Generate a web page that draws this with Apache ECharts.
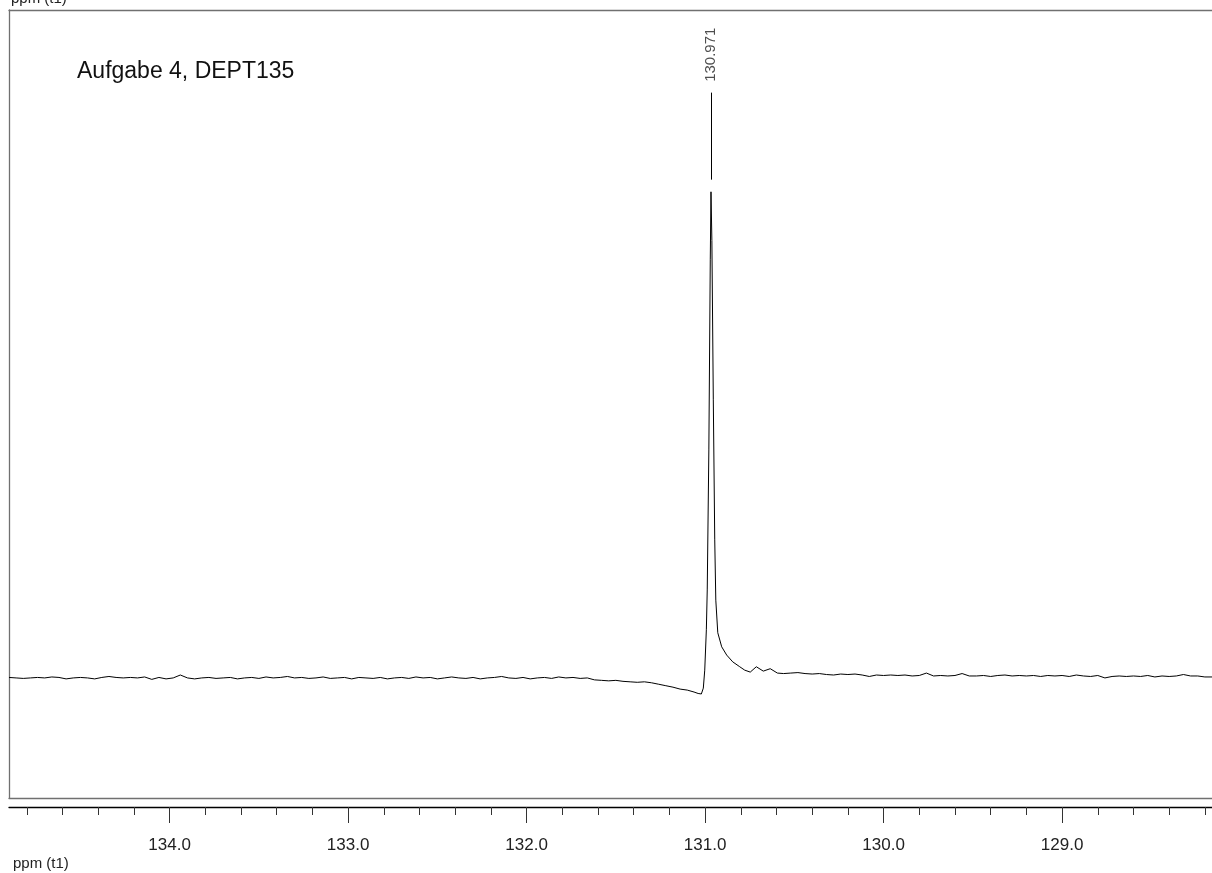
<!DOCTYPE html>
<html>
<head>
<meta charset="utf-8">
<script src="https://cdn.jsdelivr.net/npm/echarts@6/dist/echarts.min.js"></script>
<style>
html,body{margin:0;padding:0;background:#fff;overflow:hidden;}
#chart{width:1212px;height:873px;}
</style>
</head>
<body>
<div id="chart"></div>
<script>
// ---- data (ppm axis, intensity relative to peak = 100) ----
const title = 'Aufgabe 4, DEPT135';
const axisName = 'ppm (t1)';
const peakPos = 130.967;       // where the peak maximum sits on the axis
const peakLabel = '130.971';   // printed peak label

// left baseline: 134.90 -> 131.10 ppm, step 0.04
const leftStart = 134.90, leftStep = 0.04;
const leftValues = [
  0.1, 0.0, -0.1, 0.0, 0.1, 0.0, 0.2, 0.1, -0.2, 0.0,
  0.1, 0.0, -0.2, 0.1, 0.3, 0.1, 0.0, 0.1, 0.0, 0.2,
  -0.3, 0.1, -0.2, 0.0, 0.6, 0.0, -0.2, 0.0, 0.1, -0.1,
  0.0, 0.1, -0.2, 0.0, 0.1, -0.1, 0.2, 0.0, 0.1, 0.3,
  0.0, 0.1, -0.1, 0.0, 0.2, -0.1, 0.0, 0.1, -0.2, 0.1,
  0.0, -0.1, 0.1, -0.2, 0.0, 0.1, -0.1, 0.2, 0.0, 0.1,
  -0.2, 0.0, 0.2, 0.0, -0.1, 0.1, -0.2, 0.0, 0.1, 0.3,
  0.0, -0.1, 0.1, -0.2, 0.0, 0.1, -0.1, 0.2, 0.0, 0.1,
  -0.1, 0.0, -0.4, -0.5, -0.6, -0.5, -0.7, -0.8, -0.9, -0.8,
  -1.0, -1.3, -1.6, -1.9, -2.3, -2.5
];

// peak region: explicit ppm / intensity pairs
const peakPpms = [
  131.062, 131.039, 131.021, 131.010, 131.002, 130.993, 130.988, 130.979,
  130.971, 130.967, 130.962, 130.954, 130.946, 130.940, 130.929, 130.907,
  130.879, 130.845, 130.806, 130.778, 130.747, 130.713, 130.674, 130.635, 130.595
];
const peakValues = [
  -2.9, -3.2, -3.3, -2.1, 1.6, 9.9, 18.1, 46.9,
  86.0, 100.0, 90.0, 57.2, 28.4, 16.0, 9.3, 6.4,
  4.7, 3.3, 2.3, 1.6, 1.2, 2.3, 1.4, 1.9, 1.0
];

// right baseline: 130.56 -> 128.12 ppm, step 0.04
const rightStart = 130.56, rightStep = 0.04;
const rightValues = [
  0.9, 1.0, 1.1, 0.9, 0.8, 0.9, 0.7, 0.6, 0.8, 0.7,
  0.8, 0.6, 0.3, 0.6, 0.5, 0.6, 0.5, 0.6, 0.4, 0.5,
  1.0, 0.4, 0.5, 0.4, 0.5, 0.9, 0.4, 0.4, 0.5, 0.3,
  0.5, 0.6, 0.4, 0.5, 0.4, 0.5, 0.3, 0.5, 0.4, 0.5,
  0.3, 0.6, 0.4, 0.3, 0.5, 0.0, 0.3, 0.4, 0.3, 0.4,
  0.3, 0.5, 0.2, 0.4, 0.3, 0.4, 0.7, 0.4, 0.4, 0.2,
  0.2, 0.1
];

const majorTicks = [129.0, 130.0, 131.0, 132.0, 133.0, 134.0];
const minorTicks = [128.2, 128.4, 128.6, 128.8, 129.2, 129.4, 129.6, 129.8,
  130.2, 130.4, 130.6, 130.8, 131.2, 131.4, 131.6, 131.8,
  132.2, 132.4, 132.6, 132.8, 133.2, 133.4, 133.6, 133.8,
  134.2, 134.4, 134.6, 134.8];

// ---- build series data ----
const spectrum = [];
leftValues.forEach((v, i) => spectrum.push([+(leftStart - i * leftStep).toFixed(3), v]));
peakPpms.forEach((p, i) => spectrum.push([p, peakValues[i]]));
rightValues.forEach((v, i) => spectrum.push([+(rightStart - i * rightStep).toFixed(3), v]));

const xMin = 128.16, xMax = 134.90;
const yMin = -24.7, yMax = 137.4;

const chart = echarts.init(document.getElementById('chart'), null, {renderer: 'canvas'});
const font = 'Arial, "Liberation Sans", Helvetica, sans-serif';
const frameLine = {show: true, onZero: false, lineStyle: {color: '#707070', width: 1.3}};
const frameAxis = (pos, off) => ({
  type: 'value', min: xMin, max: xMax, inverse: true, position: pos, offset: off,
  axisLine: frameLine, axisTick: {show: false}, axisLabel: {show: false}, splitLine: {show: false}
});

chart.setOption({
  animation: false,
  backgroundColor: '#fff',
  grid: {left: 9, right: 0, top: 10, bottom: 75, show: false},
  xAxis: [
    {
      type: 'value', min: xMin, max: xMax, inverse: true, offset: 9, position: 'bottom',
      axisLine: {show: true, onZero: false, lineStyle: {color: '#000', width: 1.3}},
      axisTick: {show: true, length: 16, customValues: majorTicks, lineStyle: {color: '#333', width: 1}},
      axisLabel: {show: true, customValues: majorTicks, margin: 30, fontSize: 17, color: '#222', fontFamily: font,
        formatter: v => Number(v).toFixed(1)},
      splitLine: {show: false}
    },
    {
      type: 'value', min: xMin, max: xMax, inverse: true, offset: 9, position: 'bottom',
      axisLine: {show: false, onZero: false},
      axisTick: {show: true, length: 8, customValues: minorTicks, lineStyle: {color: '#333', width: 1}},
      axisLabel: {show: false},
      splitLine: {show: false}
    },
    frameAxis('bottom', 0),
    frameAxis('top', 0)
  ],
  yAxis: {
    type: 'value', min: yMin, max: yMax, position: 'left',
    axisLine: frameLine, axisTick: {show: false}, axisLabel: {show: false}, splitLine: {show: false}
  },
  series: [
    {
      type: 'line', data: spectrum, showSymbol: false, symbol: 'none',
      lineStyle: {color: '#000', width: 1}, smooth: false,
      markLine: {
        silent: true, symbol: 'none', label: {show: false},
        lineStyle: {color: '#000', width: 1, type: 'solid'},
        data: [[{coord: [peakPos, 102.5]}, {coord: [peakPos, 120.4]}]]
      }
    },
    {
      type: 'scatter', data: [[peakPos, 128.2]], symbolSize: 0, silent: true,
      label: {show: true, position: 'inside', rotate: 90, formatter: peakLabel, fontSize: 15, color: '#222', fontFamily: font}
    }
  ],
  graphic: [
    {type: 'text', x: 77, y: 60, style: {text: title, fill: '#111', font: '23px ' + font, verticalAlign: 'top'}},
    {type: 'text', x: 11, y: -9, style: {text: axisName, fill: '#222', font: '15px ' + font, verticalAlign: 'top'}},
    {type: 'text', x: 13, y: 856, style: {text: axisName, fill: '#222', font: '15px ' + font, verticalAlign: 'top'}}
  ]
});
</script>
</body>
</html>
